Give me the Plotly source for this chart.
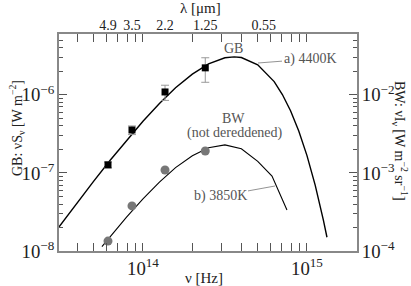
import plotly.graph_objects as go

# ---- data ----
lam_um = [4.9, 3.5, 2.2, 1.25]                       # photometric bands (micron)
gb_nu = [6.12e13, 8.57e13, 1.363e14, 2.398e14]      # Hz
gb_flux = [1.27e-7, 3.55e-7, 1.09e-6, 2.22e-6]      # W m^-2
gb_err = [0.11e-7, 0.45e-7, 0.24e-6, 0.77e-6]
bw_flux = [1.34e-4, 3.78e-4, 1.09e-3, 1.91e-3]      # W m^-2 sr^-1

# curve a) 4400K (GB, left axis)
ca_nu = [3.08e13, 3.98e13, 5.01e13, 6.31e13, 7.94e13, 1.00e14, 1.26e14, 1.58e14,
         2.00e14, 2.51e14, 3.16e14, 3.60e14, 3.98e14, 5.01e14, 6.31e14, 7.08e14,
         7.94e14, 8.91e14, 1.00e15, 1.122e15, 1.259e15, 1.324e15]
ca_flux = [2.04e-8, 4.20e-8, 7.87e-8, 1.455e-7, 2.62e-7, 4.59e-7, 7.74e-7, 1.236e-6,
           1.845e-6, 2.49e-6, 2.985e-6, 3.07e-6, 3.01e-6, 2.43e-6, 1.48e-6, 1.01e-6,
           6.27e-7, 3.45e-7, 1.667e-7, 6.98e-8, 2.49e-8, 1.50e-8]

# curve b) 3850K (BW, right axis)
cb_nu = [5.62e13, 6.31e13, 7.94e13, 1.00e14, 1.26e14, 1.58e14, 2.00e14, 2.51e14,
         3.16e14, 3.98e14, 5.01e14, 6.12e14, 7.55e14]
cb_flux = [1.135e-4, 1.53e-4, 2.72e-4, 4.66e-4, 7.62e-4, 1.17e-3, 1.66e-3, 2.10e-3,
           2.29e-3, 2.04e-3, 1.41e-3, 9.1e-4, 3.36e-4]

top_lam = [4.9, 3.5, 2.2, 1.25, 0.55]
top_lab = ["4.9", "3.5", "2.2", "1.25", "0.55"]
top_nu = [2.998e14 / l for l in top_lam]

FONT = "Liberation Serif, DejaVu Serif, Times New Roman, serif"
AX = "#888888"
TXT = "#555555"

fig = go.Figure()
fig.add_trace(go.Scatter(x=ca_nu, y=ca_flux, mode="lines",
                         line=dict(color="black", width=1.4), xaxis="x", yaxis="y"))
fig.add_trace(go.Scatter(x=cb_nu, y=cb_flux, mode="lines",
                         line=dict(color="black", width=1.1), xaxis="x", yaxis="y2"))
fig.add_trace(go.Scatter(x=gb_nu, y=gb_flux, mode="markers",
                         marker=dict(symbol="square", color="black", size=7),
                         error_y=dict(type="data", array=gb_err, color="#999999",
                                      thickness=1, width=4),
                         xaxis="x", yaxis="y"))
fig.add_trace(go.Scatter(x=gb_nu, y=bw_flux, mode="markers",
                         marker=dict(symbol="circle", color="#777777", size=9),
                         xaxis="x", yaxis="y2"))
# invisible trace to activate xaxis2
fig.add_trace(go.Scatter(x=[top_nu[0]], y=[gb_flux[0]], mode="markers",
                         marker=dict(opacity=0), xaxis="x2", yaxis="y", hoverinfo="skip"))

axcommon = dict(type="log", showgrid=False, zeroline=False, showline=True, automargin=False,
                linecolor=AX, linewidth=1.5, ticks="inside", ticklen=8,
                tickcolor="#555555", dtick=1, exponentformat="power",
                tickfont=dict(family=FONT, size=15, color="#222222"),
                minor=dict(ticks="inside", ticklen=4, tickcolor="#555555", showgrid=False))

fig.update_layout(
    width=411, height=286, margin=dict(l=59, r=54, t=34, b=35, autoexpand=False),
    paper_bgcolor="white", plot_bgcolor="white", showlegend=False,
    font=dict(family=FONT),
    xaxis=dict(axcommon, range=[13.488, 15.305], mirror="allticks"),
    xaxis2=dict(type="log", range=[13.488, 15.305], overlaying="x", side="top",
                showgrid=False, zeroline=False, showline=False, ticks="", automargin=False,
                tickvals=top_nu, ticktext=top_lab,
                tickfont=dict(family=FONT, size=14, color="#222222")),
    yaxis=dict(axcommon, range=[-8, -5.22]),
    yaxis2=dict(axcommon, range=[-4, -1.22], overlaying="y", side="right"),
)

def px(xp):
    return (xp - 59) / 298.0

def py(yp):
    return (251 - yp) / 217.0

ann = [
    dict(text="λ [μm]", x=px(200), y=py(8), size=15),
    dict(text="ν [Hz]", x=px(204), y=py(278), size=15),
    dict(text="GB: νS<sub>ν</sub> [W m<sup>−2</sup>]", x=px(17), y=py(128), size=14, angle=-90),
    dict(text="BW: νI<sub>ν</sub> [W m<sup>−2</sup> sr<sup>−1</sup>]", x=px(400), y=py(141), size=14, angle=90),
    dict(text="GB", x=px(233), y=py(48), size=14, color=TXT),
    dict(text="BW", x=px(233), y=py(118), size=14, color=TXT),
    dict(text="(not dereddened)", x=px(235), y=py(133), size=14, color=TXT),
]
for a in ann:
    fig.add_annotation(text=a["text"], x=a["x"], y=a["y"], xref="paper", yref="paper",
                       xanchor="center", yanchor="middle",
                       showarrow=False, textangle=a.get("angle", 0),
                       font=dict(family=FONT, size=a["size"], color=a.get("color", "#222222")))

# labelled leader lines
fig.add_annotation(text="a) 4400K", xref="paper", yref="paper", x=px(258), y=py(63),
                   ax=52, ay=-4, showarrow=True, arrowhead=0,
                   arrowwidth=0.8, arrowcolor="#777777",
                   font=dict(family=FONT, size=14, color=TXT))
fig.add_annotation(text="b) 3850K", xref="paper", yref="paper", x=px(275), y=py(186),
                   ax=-55, ay=10, showarrow=True, arrowhead=0,
                   arrowwidth=0.8, arrowcolor="#777777",
                   font=dict(family=FONT, size=14, color=TXT))

# remove the browser's default 8px body margin so the figure fills the window
fig.write_html("out.html", config={"displayModeBar": False},
               post_script="document.body.style.margin='0';")
